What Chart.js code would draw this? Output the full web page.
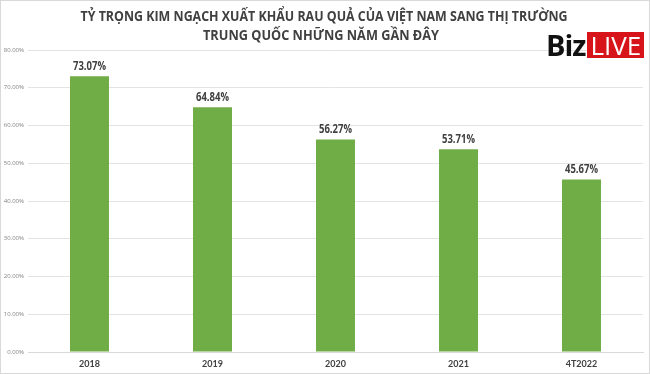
<!DOCTYPE html>
<html>
<head>
<meta charset="utf-8">
<script src="https://cdn.jsdelivr.net/npm/chart.js@4.4.0/dist/chart.umd.min.js"></script>
<style>
  html, body { margin: 0; padding: 0; background: #fff; }
  #wrap { position: relative; width: 650px; height: 374px; overflow: hidden; }
  #chartCanvas { position: absolute; left: 0; top: 0; }
  #frame { position: absolute; left: 0; top: 0; width: 650px; height: 374px; box-sizing: border-box; border: 1px solid #d9d9d9; pointer-events: none; }
  #logo { position: absolute; left: 546px; top: 32px; height: 26px; font-family: "Open Sans", sans-serif; display: flex; align-items: stretch; }
  #logo .biz { font-weight: 700; font-size: 29px; line-height: 26px; color: #111; letter-spacing: -1px; padding-right: 2px; }
  #logo .live { background: #d7141a; color: #fff; font-size: 26px; line-height: 26px; padding: 0 3px; font-weight: 400; }
</style>
</head>
<body>
<div id="wrap">
  <canvas id="chartCanvas" width="650" height="374"></canvas>
  <div id="frame"></div>
  <div id="logo"><span class="biz">Biz</span><span class="live">LIVE</span></div>
</div>
<script>
// Tỷ trọng xuất khẩu rau quả sang Trung Quốc
const categories = ['2018', '2019', '2020', '2021', '4T2022'];
const values = [0.7307, 0.6484, 0.5627, 0.5371, 0.4567];
const titleLines = ['TỶ TRỌNG KIM NGẠCH XUẤT KHẨU RAU QUẢ CỦA VIỆT NAM SANG THỊ TRƯỜNG', 'TRUNG QUỐC NHỮNG NĂM GẦN ĐÂY'];

function pct(v) {
    return (v * 100).toFixed(2) + '%';
}

// nhãn giá trị trên cột
const valueLabels = {
    id: 'valueLabels',
    afterDatasetsDraw(chart) {
        const ctx = chart.ctx;
        const meta = chart.getDatasetMeta(0);
        ctx.save();
        ctx.font = 'bold 12px "Open Sans", sans-serif';
        ctx.fillStyle = '#404040';
        ctx.textAlign = 'center';
        ctx.textBaseline = 'middle';
        meta.data.forEach((bar, i) => {
            ctx.fillText(pct(values[i]), bar.x, bar.y - 10, 33);
        });
        ctx.restore();
    }
};

const titlePlugin = {
    id: 'titleLines',
    afterDraw(chart) {
        const ctx = chart.ctx;
        ctx.save();
        ctx.font = 'bold 15px "Open Sans", sans-serif';
        ctx.fillStyle = '#404040';
        ctx.textAlign = 'center';
        ctx.textBaseline = 'middle';
        ctx.fillText(titleLines[0], 324, 17, 487);
        ctx.fillText(titleLines[1], 321, 36, 236);
        ctx.restore();
    }
};

const ctx = document.getElementById('chartCanvas').getContext('2d');
const chart = new Chart(ctx, {
    type: 'bar',
    data: {
        labels: categories,
        datasets: [{
            data: values,
            backgroundColor: '#70ad47',
            borderWidth: 0,
            categoryPercentage: 1,
            barPercentage: 0.317
        }]
    },
    options: {
        responsive: false,
        animation: false,
        layout: { padding: { top: 50, right: 7, bottom: 4, left: 0 } },
        plugins: {
            legend: { display: false },
            tooltip: { enabled: false }
        },
        scales: {
            x: {
                grid: { display: false, drawTicks: false },
                border: { color: '#d9d9d9' },
                ticks: { color: '#404040', font: { size: 9, family: 'Lato, sans-serif', weight: 'bold' }, padding: 7 },
                afterFit(scale) { scale.height = 18; }
            },
            y: {
                min: 0,
                max: 0.8,
                ticks: {
                    stepSize: 0.1,
                    color: '#7f7f7f',
                    font: { size: 6, family: '"Open Sans", sans-serif' },
                    padding: 4,
                    callback: v => pct(v)
                },
                grid: { color: '#e3e3e3', drawTicks: false },
                border: { display: false },
                afterFit(scale) { scale.width = 28; }
            }
        }
    },
    plugins: [valueLabels, titlePlugin]
});
</script>
</body>
</html>
